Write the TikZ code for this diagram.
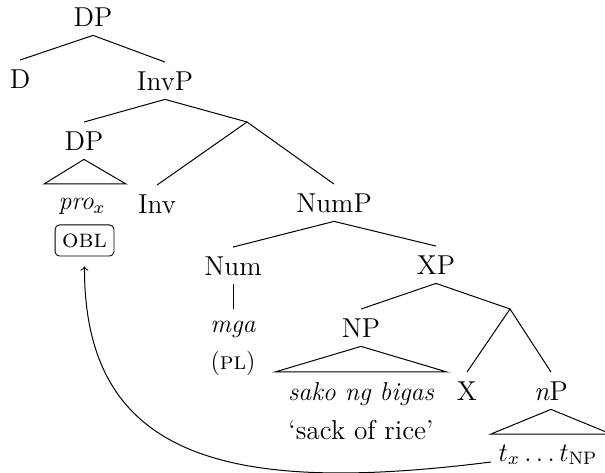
\documentclass[tikz,border=0pt]{standalone}
\usepackage{fontspec}
\begin{document}
\begin{tikzpicture}[x=0.45pt,y=-0.45pt,
  every node/.style={font=\fontsize{12.3}{14}\selectfont},
  lbl/.style={inner sep=0pt, outer sep=0pt, text height=12.8pt, text depth=4pt, anchor=base},
  leaf/.style={inner sep=0pt, outer sep=0pt, anchor=base},
  itl/.style={font=\fontsize{11.6}{13.5}\selectfont\itshape},
  oblbox/.style={draw, rounded corners=2pt, minimum width=26.5pt, minimum height=14pt, inner sep=0pt},
  edge/.style={line width=0.45pt}]
\useasboundingbox (0,0) rectangle (605,473);
% category labels
\node[lbl] (dp1) at (93,26.5) {DP};
\node[lbl] (d) at (20,88.5) {D};
\node[lbl] (invp) at (165,90.5) {InvP};
\coordinate (b1) at (247,122);
\node[lbl] (dp2) at (84,150.5) {DP};
\node[lbl] (inv) at (157,213.5) {Inv};
\node[lbl] (nump) at (334,212.5) {NumP};
\node[lbl] (num) at (233,275.5) {Num};
\node[lbl] (xp) at (436,274.5) {XP};
\node[lbl] (np) at (361,337.5) {NP};
\coordinate (b2) at (510,309);
\node[lbl] (x) at (467,400.5) {X};
\node[lbl] (np2) at (551,400.5) {\textit{n}P};
% leaves
\node[leaf, itl] (pro) at (82,210) {pro$_x$};
\node[oblbox, font=\fontsize{11.6}{13.5}\selectfont] (obl) at (84.5,240.5) {\textsc{obl}};
\node[leaf, itl, text height=10.8pt] (mga) at (233,333) {mga};
\node[leaf, font=\fontsize{11}{13}\selectfont] (pl) at (233,370) {(\textsc{pl})};
\node[leaf, itl] (sako) at (361,400) {sako ng bigas};
\node[leaf] (sack) at (361,439) {`sack of rice'};
\node[leaf, font=\fontsize{11.6}{13.5}\selectfont] (tt) at (548,461) {$t_x\ldots t_{\mathrm{NP}}$};
% triangle corners
\coordinate (t1l) at (44,184);  \coordinate (t1r) at (126,184);
\coordinate (t2l) at (275,372); \coordinate (t2r) at (447,372);
\coordinate (t3l) at (491,434); \coordinate (t3r) at (611,434);
\coordinate (cs) at (491,462);
% branches
\draw[edge] (d.north) -- (dp1.south) -- (invp.north);
\draw[edge] (dp2.north) -- (invp.south) -- (b1);
\draw[edge] (inv.north) -- (b1) -- (nump.north);
\draw[edge] (num.north) -- (nump.south) -- (xp.north);
\draw[edge] (num.south) -- (mga.north);
\draw[edge] (np.north) -- (xp.south) -- (b2);
\draw[edge] (x.north) -- (b2) -- (np2.north);
% triangles
\draw[edge] (dp2.south) -- (t1l) -- (t1r) -- cycle;
\draw[edge] (np.south) -- (t2l) -- (t2r) -- cycle;
\begin{scope}
\clip (0,0) rectangle (605,473);
\draw[edge] (np2.south) -- (t3l) -- (t3r) -- cycle;
\end{scope}
% movement arrow
\draw[edge,->,shorten >=4.5pt] (cs) .. controls (230,495) and (84,460) .. (obl.south);
\end{tikzpicture}
\end{document}
